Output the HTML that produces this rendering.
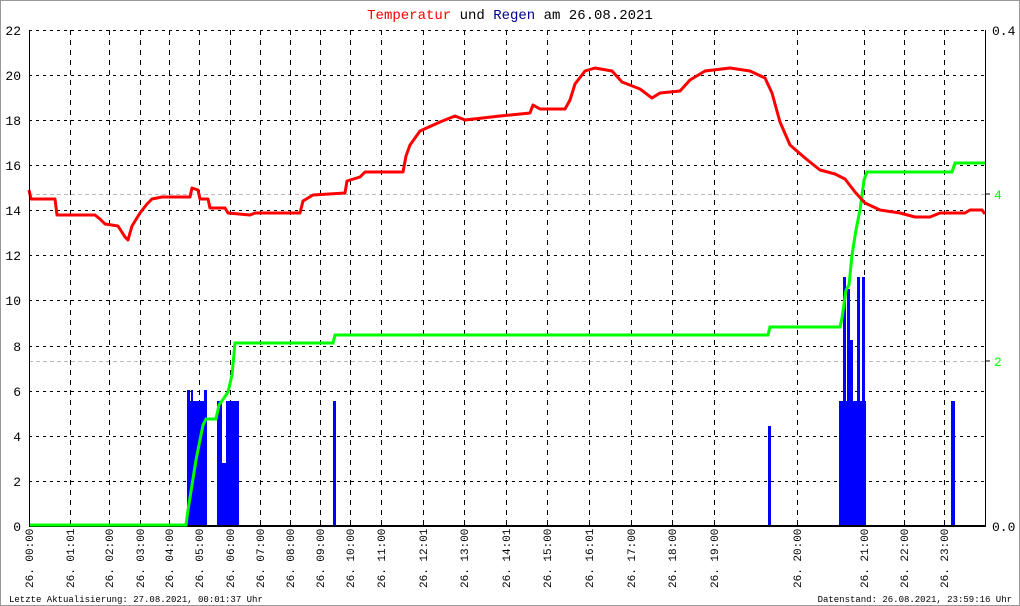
<!DOCTYPE html>
<html><head><meta charset="utf-8"><style>
html,body{margin:0;padding:0;background:#fff;}
svg{display:block;font-family:"Liberation Mono",monospace;}
</style></head><body>
<svg width="1020" height="606" viewBox="0 0 1020 606" xmlns="http://www.w3.org/2000/svg">
<rect x="0.5" y="0.5" width="1019" height="605" fill="#fff" stroke="#999"/>
<text x="510" y="19" font-size="14" text-anchor="middle"><tspan fill="#f00">Temperatur</tspan> und <tspan fill="#00008b">Regen</tspan> am 26.08.2021</text>
<g stroke="#000" stroke-dasharray="3,4" stroke-width="1">
<line x1="29" x2="985" y1="30.5" y2="30.5"/><line x1="29" x2="985" y1="75.5" y2="75.5"/><line x1="29" x2="985" y1="120.5" y2="120.5"/><line x1="29" x2="985" y1="165.5" y2="165.5"/><line x1="29" x2="985" y1="210.5" y2="210.5"/><line x1="29" x2="985" y1="255.5" y2="255.5"/><line x1="29" x2="985" y1="300.5" y2="300.5"/><line x1="29" x2="985" y1="346.5" y2="346.5"/><line x1="29" x2="985" y1="391.5" y2="391.5"/><line x1="29" x2="985" y1="436.5" y2="436.5"/><line x1="29" x2="985" y1="481.5" y2="481.5"/>
</g>
<g stroke="#bbb" stroke-dasharray="4,3"><line x1="29" x2="985" y1="194.5" y2="194.5"/><line x1="29" x2="985" y1="361.5" y2="361.5"/></g>
<g stroke="#000" stroke-dasharray="5,5">
<line x1="70.5" x2="70.5" y1="30" y2="526"/><line x1="109.5" x2="109.5" y1="30" y2="526"/><line x1="140.5" x2="140.5" y1="30" y2="526"/><line x1="169.5" x2="169.5" y1="30" y2="526"/><line x1="199.5" x2="199.5" y1="30" y2="526"/><line x1="230.5" x2="230.5" y1="30" y2="526"/><line x1="260.5" x2="260.5" y1="30" y2="526"/><line x1="290.5" x2="290.5" y1="30" y2="526"/><line x1="320.5" x2="320.5" y1="30" y2="526"/><line x1="350.5" x2="350.5" y1="30" y2="526"/><line x1="381.5" x2="381.5" y1="30" y2="526"/><line x1="423.5" x2="423.5" y1="30" y2="526"/><line x1="464.5" x2="464.5" y1="30" y2="526"/><line x1="506.5" x2="506.5" y1="30" y2="526"/><line x1="547.5" x2="547.5" y1="30" y2="526"/><line x1="589.5" x2="589.5" y1="30" y2="526"/><line x1="631.5" x2="631.5" y1="30" y2="526"/><line x1="672.5" x2="672.5" y1="30" y2="526"/><line x1="714.5" x2="714.5" y1="30" y2="526"/><line x1="797.5" x2="797.5" y1="30" y2="526"/><line x1="864.5" x2="864.5" y1="30" y2="526"/><line x1="904.5" x2="904.5" y1="30" y2="526"/><line x1="944.5" x2="944.5" y1="30" y2="526"/>
</g>
<g fill="#00f">
<rect x="187" y="390" width="3" height="136"/><rect x="190" y="401" width="4" height="125"/><rect x="191" y="390" width="2" height="136"/><rect x="194" y="401" width="10" height="125"/><rect x="204" y="390" width="3" height="136"/>
<rect x="217" y="401" width="5" height="125"/><rect x="222" y="463" width="4" height="63"/><rect x="226" y="401" width="13" height="125"/>
<rect x="333" y="401" width="3" height="125"/>
<rect x="768" y="426" width="3" height="100"/>
<rect x="839" y="401" width="27" height="125"/><rect x="843" y="277" width="3" height="249"/><rect x="847" y="289" width="3" height="237"/><rect x="850" y="340" width="3" height="186"/><rect x="857" y="277" width="3" height="249"/><rect x="862" y="277" width="3" height="249"/>
<rect x="951" y="401" width="4" height="125"/>
</g>
<line x1="29" x2="985" y1="526" y2="526" stroke="#000" stroke-width="2"/>
<polyline fill="none" stroke="#00ff00" stroke-width="3" points="29,525 186,525 188,510 192,485 196,460 200,440 203,425 206,419 216,419 219,405 224,398 228,392 232,375 235,343 333,343 335,335 768,335 770,327 840,327 842,318 846,290 849,285 852,255 856,230 860,210 864,180 867,172 952,172 955,163 986,163"/>
<polyline fill="none" stroke="#f00" stroke-width="3" stroke-linejoin="round" points="29,190 31,199 55,199 57,215 95,215 100,219 105,224 118,226 125,237 128,240 132,226 140,213 147,204 152,199 162,197 190,197 192,188 198,190 200,199 208,199 210,208 225,208 228,213 250,215 255,213 300,213 303,201 313,195 345,193 347,181 360,177 365,172 403,172 406,156 410,145 420,131 440,122 455,116 465,120 500,116 530,113 533,105 540,109 565,109 570,100 575,84 585,71 595,68 612,71 622,82 640,89 652,98 660,93 680,91 690,80 705,71 730,68 750,71 765,78 772,93 780,122 790,145 805,158 820,170 835,174 845,179 855,192 865,203 880,210 900,213 915,217 930,217 940,213 965,213 970,210 982,210 985,214"/>
<line x1="29.5" x2="29.5" y1="30" y2="527" stroke="#000"/>
<line x1="985.5" x2="985.5" y1="30" y2="527" stroke="#000"/>
<g font-size="13" text-anchor="end" fill="#000">
<text x="21" y="35">22</text><text x="21" y="80">20</text><text x="21" y="125">18</text><text x="21" y="170">16</text><text x="21" y="215">14</text><text x="21" y="260">12</text><text x="21" y="305">10</text><text x="21" y="351">8</text><text x="21" y="396">6</text><text x="21" y="441">4</text><text x="21" y="486">2</text><text x="21" y="531">0</text>
</g>
<g font-size="13"><text x="992" y="35">0.4</text><text x="994" y="199" fill="#0f0">4</text><text x="994" y="366" fill="#0f0">2</text><text x="992" y="531">0.0</text></g>
<g stroke="#000"><line x1="985" x2="990" y1="194" y2="194"/><line x1="985" x2="990" y1="361" y2="361"/></g>
<g font-size="11" fill="#000">
<text transform="translate(33,588) rotate(-90)">26.  00:00</text>
<text transform="translate(74,588) rotate(-90)">26.  01:01</text>
<text transform="translate(113,588) rotate(-90)">26.  02:00</text>
<text transform="translate(144,588) rotate(-90)">26.  03:00</text>
<text transform="translate(173,588) rotate(-90)">26.  04:00</text>
<text transform="translate(203,588) rotate(-90)">26.  05:00</text>
<text transform="translate(234,588) rotate(-90)">26.  06:00</text>
<text transform="translate(264,588) rotate(-90)">26.  07:00</text>
<text transform="translate(294,588) rotate(-90)">26.  08:00</text>
<text transform="translate(324,588) rotate(-90)">26.  09:00</text>
<text transform="translate(354,588) rotate(-90)">26.  10:00</text>
<text transform="translate(385,588) rotate(-90)">26.  11:00</text>
<text transform="translate(427,588) rotate(-90)">26.  12:01</text>
<text transform="translate(468,588) rotate(-90)">26.  13:00</text>
<text transform="translate(510,588) rotate(-90)">26.  14:01</text>
<text transform="translate(551,588) rotate(-90)">26.  15:00</text>
<text transform="translate(593,588) rotate(-90)">26.  16:01</text>
<text transform="translate(635,588) rotate(-90)">26.  17:00</text>
<text transform="translate(676,588) rotate(-90)">26.  18:00</text>
<text transform="translate(718,588) rotate(-90)">26.  19:00</text>
<text transform="translate(801,588) rotate(-90)">26.  20:00</text>
<text transform="translate(868,588) rotate(-90)">26.  21:00</text>
<text transform="translate(908,588) rotate(-90)">26.  22:00</text>
<text transform="translate(948,588) rotate(-90)">26.  23:00</text>
</g>
<text x="9" y="602" font-size="9">Letzte Aktualisierung: 27.08.2021, 00:01:37 Uhr</text>
<text x="1012" y="602" font-size="9" text-anchor="end">Datenstand: 26.08.2021, 23:59:16 Uhr</text>
</svg>
</body></html>
